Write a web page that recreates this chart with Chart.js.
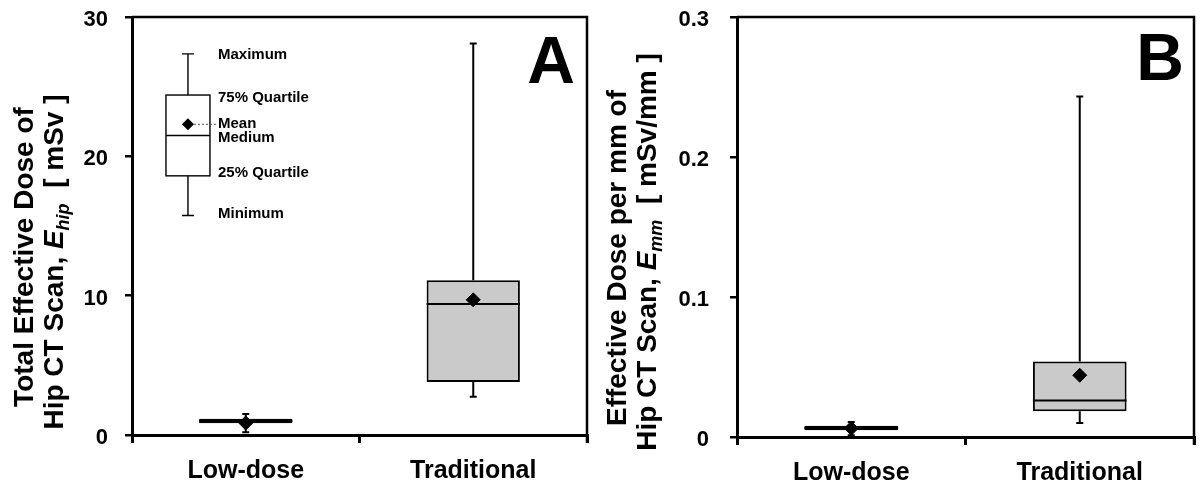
<!DOCTYPE html>
<html>
<head>
<meta charset="utf-8">
<title>Effective dose of hip CT scan</title>
<script src="https://cdn.jsdelivr.net/npm/chart.js@4.4.1/dist/chart.umd.min.js"></script>
<style>
  body { margin: 0; background: #fff; }
  .panel { position: absolute; top: 0; width: 601px; height: 489px; }
  #panelA { left: 0; }
  #panelB { left: 601px; }
</style>
</head>
<body>
<div class="panel" id="panelA"><canvas id="chartA"></canvas></div>
<div class="panel" id="panelB"><canvas id="chartB"></canvas></div>
<script>
// categories
const categories = ['Low-dose', 'Traditional'];

// A: total effective dose [mSv]
const totalMin = [0.2, 2.75];
const totalQ1 = [0.85, 3.8];
const totalMedian = [1.0, 9.4];
const totalQ3 = [1.17, 11.1];
const totalMax = [1.5, 28.1];
const totalMean = [0.86, 9.7];
const totalTicks = [0, 10, 20, 30];

// B: effective dose per mm [mSv/mm]
const perMmMin = [0.0012, 0.0100];
const perMmQ1 = [0.0048, 0.0184];
const perMmMedian = [0.0064, 0.0260];
const perMmQ3 = [0.0080, 0.0539];
const perMmMax = [0.0107, 0.2432];
const perMmMean = [0.0062, 0.0441];
const perMmTicks = [0, 0.1, 0.2, 0.3];

// key box drawn in panel A (max, q3, mean, median, q1, min)
const keyLabels = ['Maximum', '75% Quartile', 'Mean', 'Medium', '25% Quartile', 'Minimum'];
const keyValues = [27.35, 24.4, 22.3, 21.5, 18.6, 15.75];

const FONT = '"Liberation Sans", Arial, Helvetica, sans-serif';

function drawTitleLine(ctx, parts, baseX, centerY) {
  let total = 0;
  parts.forEach(p => { ctx.font = p.font; p.w = ctx.measureText(p.t).width; total += p.w; });
  ctx.save();
  ctx.translate(baseX, centerY);
  ctx.rotate(-Math.PI / 2);
  ctx.textBaseline = 'alphabetic';
  ctx.textAlign = 'left';
  ctx.fillStyle = '#000';
  let x = -total / 2;
  parts.forEach(p => {
    ctx.font = p.font;
    ctx.fillText(p.t, x, p.dy || 0);
    x += p.w;
  });
  ctx.restore();
}

const boxPlot = {
  id: 'boxPlot',
  afterDatasetDraw(chart, args, opts) {
    if (args.index !== 0) return;
    const ctx = chart.ctx;
    const y = chart.scales.y;
    ctx.save();
    ctx.strokeStyle = '#000';
    ctx.lineWidth = 2;
    args.meta.data.forEach((bar, i) => {
      const { x, width } = bar.getProps(['x', 'width'], true);
      const yMin = y.getPixelForValue(opts.min[i]);
      const yMax = y.getPixelForValue(opts.max[i]);
      const yQ1 = y.getPixelForValue(opts.q1[i]);
      const yQ3 = y.getPixelForValue(opts.q3[i]);
      const yMed = y.getPixelForValue(opts.median[i]);
      ctx.beginPath();
      ctx.moveTo(x, yQ3); ctx.lineTo(x, yMax);
      ctx.moveTo(x, yQ1); ctx.lineTo(x, yMin);
      ctx.moveTo(x - 3.5, yMax); ctx.lineTo(x + 3.5, yMax);
      ctx.moveTo(x - 3.5, yMin); ctx.lineTo(x + 3.5, yMin);
      ctx.moveTo(x - width / 2, yMed); ctx.lineTo(x + width / 2, yMed);
      ctx.stroke();
    });
    ctx.restore();
  },
  afterDraw(chart, args, opts) {
    const ctx = chart.ctx;
    const ca = chart.chartArea;
    const y = chart.scales.y;
    ctx.save();
    // top and right frame
    ctx.strokeStyle = '#000';
    ctx.lineWidth = 2.5;
    ctx.beginPath();
    ctx.moveTo(ca.left, ca.top);
    ctx.lineTo(ca.right, ca.top);
    ctx.lineTo(ca.right, ca.bottom + 8);
    ctx.stroke();

    // panel letter
    ctx.fillStyle = '#000';
    ctx.font = 'bold 66px ' + FONT;
    ctx.textAlign = 'right';
    ctx.textBaseline = 'alphabetic';
    ctx.fillText(opts.letter, ca.right - opts.letterInset, ca.top + opts.letterDrop);

    // y axis title
    opts.title.forEach(line => drawTitleLine(ctx, line.parts, line.x, line.cy));

    // key box
    if (opts.key) {
      const w = ca.right - ca.left;
      const kx = ca.left + 0.123 * w;
      const hw = 22;
      const py = keyValues.map(v => y.getPixelForValue(v));
      ctx.lineWidth = 1.4;
      ctx.strokeStyle = '#000';
      ctx.fillStyle = '#fff';
      ctx.fillRect(kx - hw, py[1], 2 * hw, py[4] - py[1]);
      ctx.strokeRect(kx - hw, py[1], 2 * hw, py[4] - py[1]);
      ctx.beginPath();
      ctx.moveTo(kx - hw, py[3]); ctx.lineTo(kx + hw, py[3]);
      ctx.moveTo(kx, py[1]); ctx.lineTo(kx, py[0]);
      ctx.moveTo(kx, py[4]); ctx.lineTo(kx, py[5]);
      ctx.moveTo(kx - 6, py[0]); ctx.lineTo(kx + 6, py[0]);
      ctx.moveTo(kx - 6, py[5]); ctx.lineTo(kx + 6, py[5]);
      ctx.stroke();
      // mean diamond
      ctx.fillStyle = '#000';
      ctx.beginPath();
      ctx.moveTo(kx, py[2] - 6); ctx.lineTo(kx + 6, py[2]);
      ctx.lineTo(kx, py[2] + 6); ctx.lineTo(kx - 6, py[2]);
      ctx.closePath();
      ctx.fill();
      const lx = ca.left + 0.189 * w;
      ctx.setLineDash([2, 2]);
      ctx.lineWidth = 1;
      ctx.strokeStyle = '#555';
      ctx.beginPath();
      ctx.moveTo(kx + 6, py[2]); ctx.lineTo(lx - 1, py[2]);
      ctx.stroke();
      ctx.setLineDash([]);
      const nudge = [1, 2.5, 0, 2, -2.5, -1.5];
      ctx.font = 'bold 15px ' + FONT;
      ctx.textAlign = 'left';
      ctx.textBaseline = 'middle';
      keyLabels.forEach((t, i) => ctx.fillText(t, lx, py[i] + nudge[i]));
    }
    ctx.restore();
  }
};

function makeChart(id, cfg) {
  return new Chart(document.getElementById(id), {
    type: 'bar',
    data: {
      labels: categories,
      datasets: [
        {
          data: categories.map((c, i) => [cfg.q1[i], cfg.q3[i]]),
          backgroundColor: '#cacaca',
          borderColor: '#000',
          borderWidth: 2,
          borderSkipped: false,
          barPercentage: 0.41,
          categoryPercentage: 1,
          order: 2
        },
        {
          type: 'line',
          data: cfg.mean,
          showLine: false,
          pointStyle: 'rectRot',
          pointRadius: 7,
          pointBackgroundColor: '#000',
          pointBorderColor: '#000',
          pointBorderWidth: 1,
          order: 1
        }
      ]
    },
    options: {
      responsive: true,
      maintainAspectRatio: false,
      animation: false,
      events: [],
      layout: { padding: { left: 0, top: 17, right: cfg.padRight, bottom: 0 } },
      plugins: {
        legend: { display: false },
        tooltip: { enabled: false },
        boxPlot: {
          min: cfg.min, q1: cfg.q1, median: cfg.median, q3: cfg.q3, max: cfg.max,
          letter: cfg.letter, letterInset: cfg.letterInset, letterDrop: cfg.letterDrop,
          title: cfg.title, key: cfg.key
        }
      },
      scales: {
        x: {
          offset: true,
          grid: { display: true, offset: true, drawOnChartArea: false, drawTicks: true, tickLength: 8, lineWidth: 3, color: '#000' },
          border: { display: true, color: '#000', width: 3 },
          ticks: { color: '#000', font: { family: FONT, size: 25, weight: 'bold' }, padding: 13 },
          afterFit: s => { s.height = cfg.xHeight; s.paddingLeft = 0; s.paddingRight = 0; }
        },
        y: {
          min: cfg.ticks[0],
          max: cfg.ticks[cfg.ticks.length - 1],
          afterBuildTicks: s => { s.ticks = cfg.ticks.map(v => ({ value: v })); },
          grid: { display: true, drawOnChartArea: false, drawTicks: true, tickLength: 7, lineWidth: 2.5, color: '#000' },
          border: { display: true, color: '#000', width: 3 },
          ticks: {
            color: '#000',
            font: { family: FONT, size: 22, weight: 'bold' },
            padding: cfg.tickPad,
            labelOffset: 3,
            callback: v => String(Math.round(v * 1000) / 1000)
          },
          afterFit: s => { s.width = cfg.yWidth; s.paddingTop = 0; s.paddingBottom = 0; }
        }
      }
    },
    plugins: [boxPlot]
  });
}

const bold28 = 'bold 28px ' + FONT;
const ital28 = 'italic bold 28px ' + FONT;
const sub18 = 'italic bold 18px ' + FONT;

makeChart('chartA', {
  min: totalMin, q1: totalQ1, median: totalMedian, q3: totalQ3, max: totalMax, mean: totalMean,
  ticks: totalTicks, yWidth: 132, xHeight: 54, padRight: 14, tickPad: 17,
  letter: 'A', letterInset: 12, letterDrop: 66, key: true,
  title: [
    { x: 33, cy: 257, parts: [{ t: 'Total Effective Dose of', font: bold28 }] },
    { x: 63, cy: 262, parts: [
      { t: 'Hip CT Scan, ', font: bold28 },
      { t: 'E', font: ital28 },
      { t: 'hip', font: sub18, dy: 6 },
      { t: '  [ mSv ]', font: bold28 }
    ] }
  ]
});

makeChart('chartB', {
  min: perMmMin, q1: perMmQ1, median: perMmMedian, q3: perMmQ3, max: perMmMax, mean: perMmMean,
  ticks: perMmTicks, yWidth: 136, xHeight: 52, padRight: 5, tickPad: 21,
  letter: 'B', letterInset: 10, letterDrop: 63, key: false,
  title: [
    { x: 25, cy: 258, parts: [{ t: 'Effective Dose per mm of', font: bold28 }] },
    { x: 55, cy: 252, parts: [
      { t: 'Hip CT Scan, ', font: bold28 },
      { t: 'E', font: ital28 },
      { t: 'mm', font: sub18, dy: 6 },
      { t: '  [ mSv/mm ]', font: bold28 }
    ] }
  ]
});
</script>
</body>
</html>
